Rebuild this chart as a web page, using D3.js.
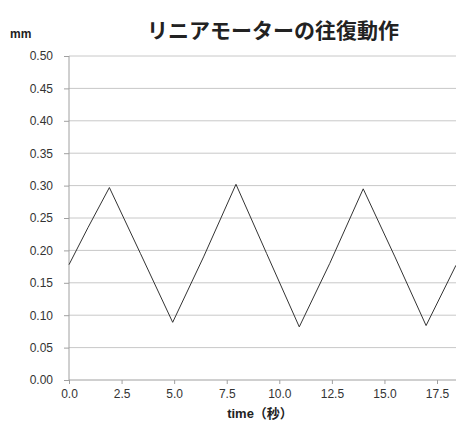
<!DOCTYPE html>
<html><head><meta charset="utf-8">
<script src="https://cdn.jsdelivr.net/npm/d3@7"></script>
<style>body{margin:0;background:#fff}svg{display:block}</style>
</head><body>
<svg id="c" width="456" height="421"></svg>
<script>
const times = [0, 0.9, 1.92, 3.4, 4.93, 6.4, 7.94, 9.4, 10.95, 12.4, 13.99, 15.5, 16.98, 18.4];
const values = [0.178, 0.235, 0.297, 0.195, 0.089, 0.19, 0.302, 0.195, 0.082, 0.18, 0.295, 0.19, 0.084, 0.177];
const yTicks = [0, 0.05, 0.1, 0.15, 0.2, 0.25, 0.3, 0.35, 0.4, 0.45, 0.5];
const xTicks = [0, 2.5, 5, 7.5, 10, 12.5, 15, 17.5];
const title = "リニアモーターの往復動作";
const yUnit = "mm";
const xLabel = "time（秒）";

(function () {
const svg = d3.select("#c");
const mLeft = 69, mTop = 56, mBottom = 380;
const x = d3.scaleLinear().domain([0, 20]).range([mLeft, mLeft + 20 * 21.03]);
const y = d3.scaleLinear().domain([0, 0.5]).range([mBottom, mTop]);
const font = "'Liberation Sans', Arial, 'Noto Sans CJK JP', sans-serif";

// gridlines
svg.append("g").selectAll("line").data(yTicks.filter(d => d > 0)).join("line")
  .attr("x1", mLeft).attr("x2", 456)
  .attr("y1", d => y(d)).attr("y2", d => y(d))
  .attr("stroke", "#c8c8c8").attr("stroke-width", 1);

// y axis
const ya = svg.append("g").attr("transform", `translate(${mLeft},0)`)
  .call(d3.axisLeft(y).tickValues(yTicks).tickFormat(d3.format(".2f")).tickSize(5).tickPadding(11));
ya.select(".domain").attr("stroke", "#a0a0a0").attr("d", `M0,${y(0)}V${y(0.5)}`);
ya.selectAll(".tick line").attr("stroke", "#a0a0a0");
ya.selectAll("text").attr("font-family", font).attr("font-size", 12).attr("fill", "#333");

// x axis
const xa = svg.append("g").attr("transform", `translate(0,${mBottom})`)
  .call(d3.axisBottom(x).tickValues(xTicks).tickFormat(d3.format(".1f")).tickSize(4).tickPadding(5));
xa.select(".domain").attr("stroke", "#a0a0a0").attr("d", `M${mLeft},0H456`);
xa.selectAll(".tick line").attr("stroke", "#a0a0a0");
xa.selectAll("text").attr("font-family", font).attr("font-size", 12).attr("fill", "#333");

// line
const pts = times.map((t, i) => [t, values[i]]);
svg.append("path").datum(pts)
  .attr("fill", "none").attr("stroke", "#333").attr("stroke-width", 1)
  .attr("d", d3.line().x(d => x(d[0])).y(d => y(d[1])));

// texts
svg.append("text").attr("x", 273).attr("y", 38).attr("text-anchor", "middle")
  .attr("font-family", "'Noto Sans CJK JP', sans-serif").attr("font-weight", "bold")
  .attr("font-size", 21).attr("fill", "#222").text(title);
svg.append("text").attr("x", 10).attr("y", 38)
  .attr("font-family", font).attr("font-weight", "bold")
  .attr("font-size", 12).attr("fill", "#222").text(yUnit);
svg.append("text").attr("x", 260).attr("y", 418).attr("text-anchor", "middle")
  .attr("font-family", "'Liberation Sans', 'Noto Sans CJK JP', sans-serif").attr("font-weight", "bold")
  .attr("font-size", 13).attr("fill", "#222").text(xLabel);
})();
</script>
</body></html>
